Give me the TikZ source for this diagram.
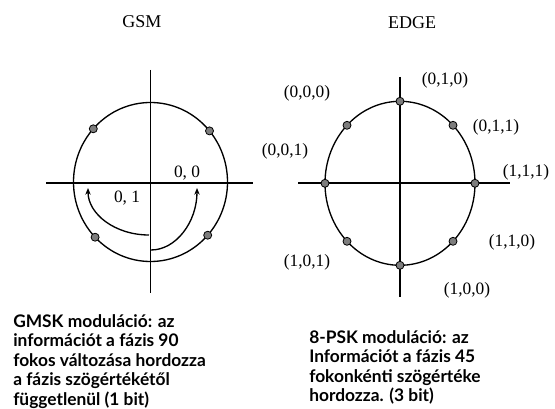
\documentclass[tikz,border=0pt]{standalone}
\usepackage{fontspec}
\setmainfont{Liberation Serif}
\newfontfamily\captfont{Lato}
\usetikzlibrary{arrows.meta,positioning}
\definecolor{sigGray}{RGB}{125,125,125}

\begin{document}
\begin{tikzpicture}[x=0.75pt,y=-0.75pt,
    axis/.style={line width=1.3pt},
    ring/.style={line width=1pt},
    sig/.style={circle, draw=black, fill=sigGray, line width=0.6pt,
                inner sep=0pt, minimum size=6pt},
    lbl/.style={font=\fontsize{13}{15}\selectfont, inner sep=0pt},
    ttl/.style={font=\fontsize{13.5}{16}\selectfont, inner sep=0pt},
    capt/.style={font=\captfont\fontsize{13}{14.7}\selectfont\bfseries,
                 align=left, anchor=north west, inner sep=0pt},
    turn/.style={line width=1pt, -{Stealth[length=5pt,width=4pt]}}
  ]
  \useasboundingbox (0,0) rectangle (555,409);

  % GSM
  \node[ttl] (gsmt) at (142,22) {GSM};
  \coordinate (gsmc) at (150.5,182);
  \draw[axis] (46,183) -- (253,183);
  \draw[axis] (150.5,70) -- (150.5,293);
  \draw[ring] (gsmc) ellipse [x radius=77, y radius=79.5];
  \node[sig] (g1) at (209.5,130.9) {};
  \node[sig] (g2) at (93.3,128.8) {};
  \node[sig] (g3) at (95.1,237.2) {};
  \node[sig] (g4) at (207.7,235.2) {};
  \node[lbl] (l00) at (187,173) {0, 0};
  \node[lbl] (l01) at (127,198) {0, 1};
  \coordinate (a1s) at (149,235);
  \coordinate (a1e) at (88,188);
  \coordinate (a2s) at (151,250);
  \coordinate (a2e) at (197,188);
  \draw[turn] (a1s) .. controls +(-34,0) and +(0,26) .. (a1e);
  \draw[turn] (a2s) .. controls +(25,0) and +(0,34) .. (a2e);

  % EDGE
  \node[ttl] (edget) at (412,23) {EDGE};
  \coordinate (edgec) at (400,183.3);
  \draw[axis] (298,183.3) -- (510,183.3);
  \draw[axis] (400,77) -- (400,297);
  \draw[ring] (edgec) ellipse [x radius=75, y radius=82];
  \node[sig] (e0) at (400,101.3) {};
  \node[sig] (e1) at (453,125.3) {};
  \node[sig] (e2) at (475,183.3) {};
  \node[sig] (e3) at (453,241.3) {};
  \node[sig] (e4) at (400,265.3) {};
  \node[sig] (e5) at (347,241.3) {};
  \node[sig] (e6) at (325,183.3) {};
  \node[sig] (e7) at (347,125.3) {};
  \node[lbl] (l010) at (445,80) {(0,1,0)};
  \node[lbl] (l000) at (307,93) {(0,0,0)};
  \node[lbl] (l011) at (496,127) {(0,1,1)};
  \node[lbl] (l001) at (285,151) {(0,0,1)};
  \node[lbl] (l111) at (526,172) {(1,1,1)};
  \node[lbl] (l110) at (512,242) {(1,1,0)};
  \node[lbl] (l101) at (307,262) {(1,0,1)};
  \node[lbl] (l100) at (467,290) {(1,0,0)};

  \node[capt] (gmsk) at (13,314) {GMSK moduláció: az\\
    információt a fázis 90\\
    fokos változása hordozza\\
    a fázis szögértékétől\\
    függetlenül (1 bit)};
  \node[capt] (psk) at (309,330) {8-PSK moduláció: az\\
    Információt a fázis 45\\
    fokonkénti szögértéke\\
    hordozza. (3 bit)};
\end{tikzpicture}
\end{document}
